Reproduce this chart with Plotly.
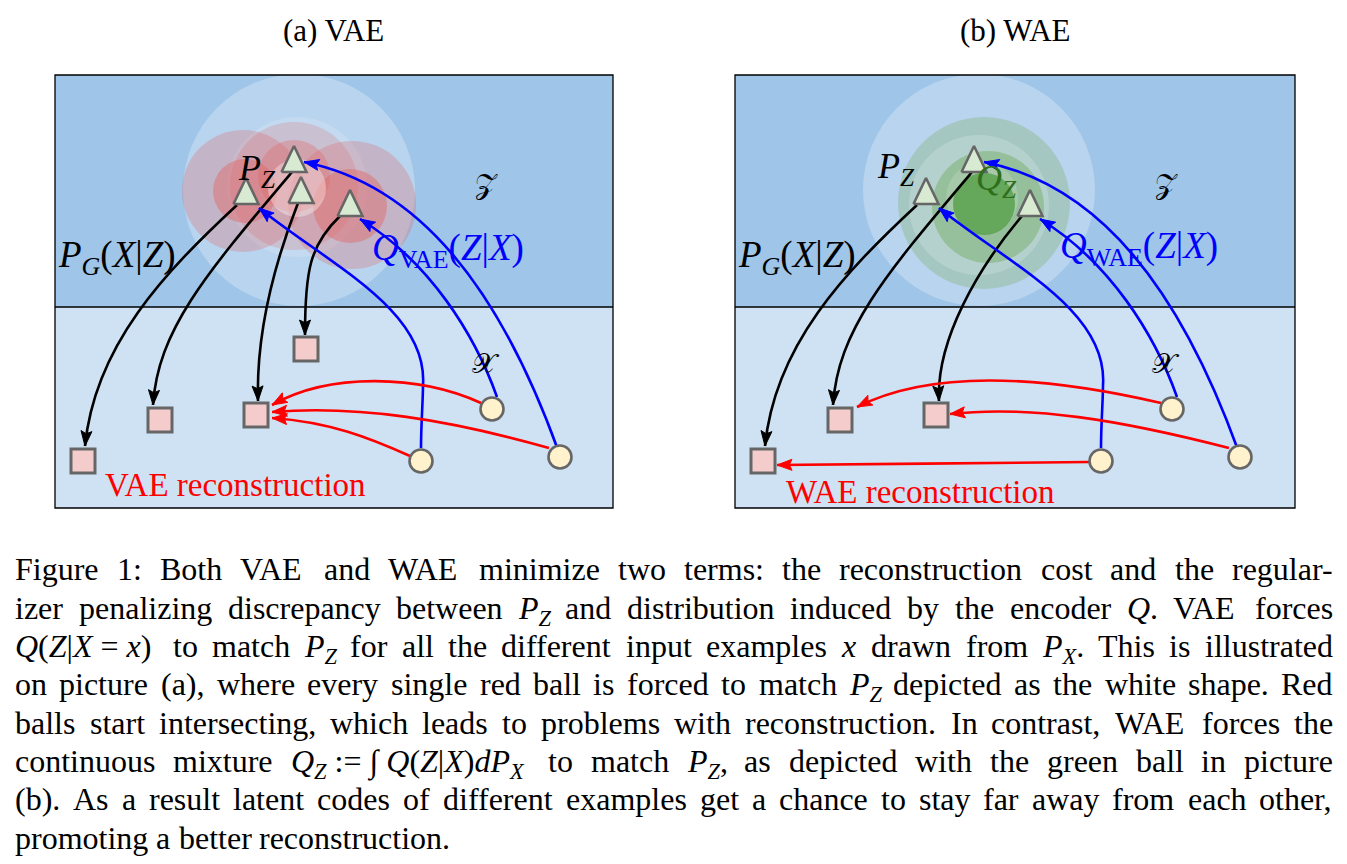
import math
import re
import plotly.graph_objects as go

# whole figure is laid out in the pixel space of the original picture
W, H = 1347, 864
SHIFT = 680  # panel (b) sits 680px to the right of panel (a)

panel_left = [55, 735]
panel_right = [613, 1295]
panel_top, panel_split, panel_bottom = 75, 307, 508
panel_titles = ["(a) VAE", "(b) WAE"]
title_x = [333, 1015]

# latent blobs: centre x, centre y, radius, colour
vae_blob_x = [299, 297, 243, 294, 352, 245, 294, 350, 297]
vae_blob_y = [190, 187, 191, 186, 205, 191, 176, 206, 188]
vae_blob_r = [116, 70, 61, 64, 64, 32, 36, 37, 29]
vae_blob_c = ["rgba(255,255,255,0.27)", "rgba(255,255,255,0.15)",
              "rgba(224,102,102,0.28)", "rgba(224,102,102,0.22)", "rgba(224,102,102,0.28)",
              "rgba(224,102,102,0.45)", "rgba(224,102,102,0.35)", "rgba(224,102,102,0.45)",
              "rgba(255,255,255,0.35)"]

wae_blob_x = [979, 984, 979, 988, 982, 984]
wae_blob_y = [190, 203, 205, 207, 198, 204]
wae_blob_r = [116, 86, 70, 56, 36, 31]
wae_blob_c = ["rgba(255,255,255,0.27)", "rgba(106,168,79,0.27)", "rgba(255,255,255,0.18)",
              "rgba(106,168,79,0.4)", "rgba(255,255,255,0.15)", "rgba(80,155,65,0.75)"]

# latent codes (triangles)
vae_code_x = [246, 294, 301, 350]
vae_code_y = [191, 159, 190, 203]
wae_code_x = [926, 974, 1030]
wae_code_y = [191, 159, 203]

# reconstructions (squares)
vae_rec_x = [83, 160, 256, 306]
vae_rec_y = [461, 420, 415, 349]
wae_rec_x = [763, 840, 936]
wae_rec_y = [461, 420, 415]

# input examples (circles)
vae_in_x = [492, 421, 560]
vae_in_y = [409, 461, 457]
wae_in_x = [1172, 1101, 1240]
wae_in_y = [409, 461, 457]

# arrows as cubic bezier control points (start, c1, c2, end[, c1, c2, end])
vae_decoder = [
    [(237, 205), (165, 272), (95, 345), (85, 446)],
    [(292, 172), (205, 275), (158, 330), (153, 405)],
    [(298, 203), (275, 262), (256, 330), (258, 401)],
    [(340, 216), (310, 245), (305, 270), (305, 335)],
]
vae_encoder = [
    [(421, 448), (421, 425), (423, 400), (423, 385), (428, 310), (330, 265), (259, 208)],
    [(497, 397), (475, 335), (430, 262), (360, 219)],
    [(558, 450), (500, 290), (420, 185), (304, 162)],
]
vae_recon = [
    [(481, 403), (420, 375), (330, 372), (272, 405)],
    [(549, 448), (450, 420), (360, 405), (272, 412)],
    [(410, 456), (370, 438), (330, 422), (272, 418)],
]


def shift(paths, dx):
    return [[(x + dx, y) for x, y in p] for p in paths]


wae_decoder = shift(vae_decoder[:2], SHIFT) + [
    [(1022, 216), (978, 268), (936, 340), (939, 401)],
]
wae_encoder = shift(vae_encoder, SHIFT)
wae_recon = [
    [(1161, 403), (1040, 375), (930, 370), (857, 407)],
    [(1229, 448), (1120, 420), (1030, 405), (950, 414)],
    [(1089, 462), (1000, 463), (870, 464), (777, 465)],
]

# labels inside the panels: text, x, y, size, colour
label_text = [
    "<i>P</i><sub><i>G</i></sub>(<i>X</i>|<i>Z</i>)", "<i>Q</i><sub>VAE</sub>(<i>Z</i>|<i>X</i>)",
    "<i>P</i><sub><i>Z</i></sub>", "\U0001D4B5", "\U0001D4B3", "VAE reconstruction",
    "<i>P</i><sub><i>G</i></sub>(<i>X</i>|<i>Z</i>)", "<i>Q</i><sub>WAE</sub>(<i>Z</i>|<i>X</i>)",
    "<i>P</i><sub><i>Z</i></sub>", "<i>Q</i><sub><i>Z</i></sub>", "\U0001D4B5", "\U0001D4B3",
    "WAE reconstruction",
]
label_x = [117, 448, 257, 486, 486, 235, 797, 1139, 896, 996, 1166, 1166, 920]
label_y = [257, 250, 170, 184, 363, 485, 257, 248, 168, 180, 184, 363, 492]
label_size = [37, 37, 36, 28, 28, 33, 37, 37, 36, 36, 28, 28, 33]
label_color = ["black", "#0000ff", "black", "black", "black", "#ff0000",
               "black", "#0000ff", "black", "#2f6e1a", "black", "black", "#ff0000"]

caption_lines = [
    "Figure 1: Both VAE and WAE minimize two terms: the reconstruction cost and the regular-",
    "izer penalizing discrepancy between <i>P</i><sub><i>Z</i></sub> and distribution induced by the encoder <i>Q</i>. VAE forces",
    "<i>Q</i>(<i>Z</i>|<i>X</i>~=~<i>x</i>) to match <i>P</i><sub><i>Z</i></sub> for all the different input examples <i>x</i> drawn from <i>P</i><sub><i>X</i></sub>. This is illustrated",
    "on picture (a), where every single red ball is forced to match <i>P</i><sub><i>Z</i></sub> depicted as the white shape. Red",
    "balls start intersecting, which leads to problems with reconstruction. In contrast, WAE forces the",
    "continuous mixture <i>Q</i><sub><i>Z</i></sub>~:=~\u222b~<i>Q</i>(<i>Z</i>|<i>X</i>)<i>dP</i><sub><i>X</i></sub> to match <i>P</i><sub><i>Z</i></sub>, as depicted with the green ball in picture",
    "(b). As a result latent codes of different examples get a chance to stay far away from each other,",
    "promoting a better reconstruction.",
]

FONT = "Liberation Serif"
CAP_SIZE = 32
CAP_LEFT, CAP_RIGHT = 15, 1333
CAP_BASE0, CAP_STEP = 580, 38.33

# Times / Liberation Serif advance widths (1/1000 em), used to justify the caption
CHAR_W = {}
for chars, w in [(" ~,.", 250), ("ijlt:;", 278), ("frI()-", 333), ("sJ", 389), ("acez", 444),
                 ("bdghknopquvxy0123456789", 500), ("FPS", 556), ("ELTZ", 611), ("BCR", 667),
                 ("ADGHKNOQUVXYw", 722), ("m", 778), ("M", 889), ("W", 944), ("|", 200),
                 ("=", 564), ("\u222b", 274)]:
    for ch in chars:
        CHAR_W[ch] = w


def text_w(s, size):
    total = 0
    for part in re.split(r"(<sub>.*?</sub>)", s):
        scale = 0.7 if part.startswith("<sub>") else 1.0
        plain = re.sub(r"<[^>]+>", "", part)
        total += scale * sum(CHAR_W.get(c, 500) for c in plain)
    return total * size / 1000


def bez_path(pts):
    d = f"M{pts[0][0]},{pts[0][1]}"
    for i in range(1, len(pts), 3):
        a, b, c = pts[i:i + 3]
        d += f" C{a[0]},{a[1]} {b[0]},{b[1]} {c[0]},{c[1]}"
    return d


def heads(paths, length=15, half=5.5):
    xs, ys = [], []
    for p in paths:
        (x2, y2), (x3, y3) = p[-2], p[-1]
        n = math.hypot(x3 - x2, y3 - y2)
        ux, uy = (x3 - x2) / n, (y3 - y2) / n
        bx, by = x3 - length * ux, y3 - length * uy
        xs += [x3, bx - half * uy, x3 - 0.82 * length * ux, bx + half * uy, x3, None]
        ys += [y3, by + half * ux, y3 - 0.82 * length * uy, by - half * ux, y3, None]
    return xs, ys


shapes = []
for i in range(2):
    shapes.append(dict(type="rect", x0=panel_left[i], x1=panel_right[i], y0=panel_top, y1=panel_split,
                       fillcolor="#9fc5e8", line_width=0, layer="below"))
    shapes.append(dict(type="rect", x0=panel_left[i], x1=panel_right[i], y0=panel_split, y1=panel_bottom,
                       fillcolor="#cfe2f3", line_width=0, layer="below"))

for bx, by, br, bc in list(zip(vae_blob_x, vae_blob_y, vae_blob_r, vae_blob_c)) + \
        list(zip(wae_blob_x, wae_blob_y, wae_blob_r, wae_blob_c)):
    shapes.append(dict(type="circle", x0=bx - br, x1=bx + br, y0=by - br, y1=by + br,
                       fillcolor=bc, line_width=0, layer="below"))

for i in range(2):
    shapes.append(dict(type="rect", x0=panel_left[i], x1=panel_right[i], y0=panel_top, y1=panel_bottom,
                       line=dict(color="black", width=1.3), layer="below"))
    shapes.append(dict(type="line", x0=panel_left[i], x1=panel_right[i], y0=panel_split, y1=panel_split,
                       line=dict(color="black", width=1.3), layer="below"))

arrow_sets = [(vae_decoder + wae_decoder, "black"),
              (vae_encoder + wae_encoder, "#0000ff"),
              (vae_recon + wae_recon, "#ff0000")]
for paths, col in arrow_sets:
    for p in paths:
        shapes.append(dict(type="path", path=bez_path(p), line=dict(color=col, width=2.6), layer="below"))

fig = go.Figure()

# triangles (latent codes)
tri_x, tri_y = [], []
for cx, cy in list(zip(vae_code_x, vae_code_y)) + list(zip(wae_code_x, wae_code_y)):
    tri_x += [cx - 12.5, cx + 12.5, cx, cx - 12.5, None]
    tri_y += [cy + 13, cy + 13, cy - 13, cy + 13, None]
fig.add_trace(go.Scatter(x=tri_x, y=tri_y, mode="lines", fill="toself", fillcolor="#d9ead3",
                         line=dict(color="#666666", width=2.6)))

fig.add_trace(go.Scatter(x=vae_rec_x + wae_rec_x, y=vae_rec_y + wae_rec_y, mode="markers",
                         marker=dict(symbol="square", size=24, color="#f4cccc",
                                     line=dict(color="#666666", width=3))))
fig.add_trace(go.Scatter(x=vae_in_x + wae_in_x, y=vae_in_y + wae_in_y, mode="markers",
                         marker=dict(symbol="circle", size=23, color="#fff2cc",
                                     line=dict(color="#666666", width=2.6))))

for paths, col in arrow_sets:
    hx, hy = heads(paths)
    fig.add_trace(go.Scatter(x=hx, y=hy, mode="lines", fill="toself", fillcolor=col,
                             line=dict(color=col, width=1)))

annotations = []
for t, tx in zip(panel_titles, title_x):
    annotations.append(dict(x=tx, y=30, text=t, font=dict(family=FONT, size=31, color="black")))

for t, lx, ly, ls, lc in zip(label_text, label_x, label_y, label_size, label_color):
    annotations.append(dict(x=lx, y=ly, text=t, font=dict(family=FONT, size=ls, color=lc)))

for k, line in enumerate(caption_lines):
    words = line.split(" ")
    widths = [text_w(w, CAP_SIZE) for w in words]
    if k == len(caption_lines) - 1:
        gap = CHAR_W[" "] * CAP_SIZE / 1000
    else:
        gap = (CAP_RIGHT - CAP_LEFT - sum(widths)) / (len(words) - 1)
    x = CAP_LEFT
    top = CAP_BASE0 + CAP_STEP * k - 0.891 * CAP_SIZE
    for w, wd in zip(words, widths):
        annotations.append(dict(x=x, y=top, text=w.replace("~", " "), xanchor="left", yanchor="top",
                                font=dict(family=FONT, size=CAP_SIZE, color="black")))
        x += wd + gap

for a in annotations:
    a.update(xref="x", yref="y", showarrow=False, borderpad=0, borderwidth=0)

fig.update_layout(
    width=W, height=H,
    margin=dict(l=0, r=0, t=0, b=0),
    paper_bgcolor="white", plot_bgcolor="white",
    showlegend=False,
    shapes=shapes,
    annotations=annotations,
    xaxis=dict(range=[0, W], visible=False, fixedrange=True),
    yaxis=dict(range=[H, 0], visible=False, fixedrange=True),
)

fig.write_html("out.html", config={"displayModeBar": False},
               post_script="document.body.style.margin='0';document.body.style.overflow='hidden';")
